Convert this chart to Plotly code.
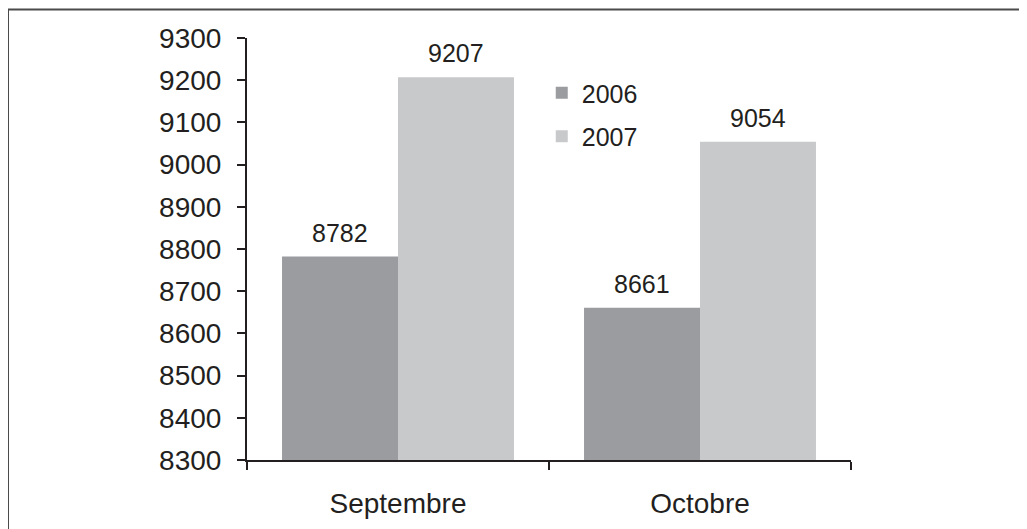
import plotly.graph_objects as go

categories = ["Septembre", "Octobre"]
series_names = ["2006", "2007"]
values_2006 = [8782, 8661]
values_2007 = [9207, 9054]
colors = ["#9b9c9f", "#c8c9cb"]
y_ticks = [8300, 8400, 8500, 8600, 8700, 8800, 8900, 9000, 9100, 9200, 9300]

FONT = "Liberation Sans, Arial, Helvetica, sans-serif"
TXT = "#231f20"
BARGAP = 0.232

fig = go.Figure()
for name, vals, col in zip(series_names, [values_2006, values_2007], colors):
    fig.add_trace(go.Bar(
        name=name, x=categories, y=vals, marker=dict(color=col, line=dict(width=0)),
        legendgroup=name,
    ))

# data labels above bars
half = (1 - BARGAP) / 2
for k, vals in enumerate([values_2006, values_2007]):
    off = -half / 2 if k == 0 else half / 2
    for i, v in enumerate(vals):
        fig.add_annotation(x=i + off, y=v, text=str(v), showarrow=False,
                           yanchor="bottom", yshift=8,
                           font=dict(family=FONT, size=25, color=TXT))

# outer frame
fig.add_shape(type="rect", xref="paper", yref="paper",
              x0=-0.3957, x1=1.31, y0=-0.25, y1=1.0675,
              line=dict(color="#4a4a4a", width=2), fillcolor="rgba(0,0,0,0)", layer="below")

fig.update_layout(
    width=1027, height=529,
    margin=dict(l=239, r=184, t=30, b=77),
    paper_bgcolor="white", plot_bgcolor="white",
    barmode="group", bargap=BARGAP, bargroupgap=0,
    font=dict(family=FONT, size=28, color=TXT),
    showlegend=True,
    legend=dict(x=0.488, y=0.924, xanchor="left", yanchor="top",
                font=dict(family=FONT, size=25, color=TXT),
                traceorder="grouped", tracegroupgap=8,
                itemwidth=30, bgcolor="rgba(0,0,0,0)"),
    xaxis=dict(type="category", showline=True, linecolor=TXT, linewidth=2,
               ticks="outside", tickson="boundaries", ticklen=8, tickwidth=2,
               tickcolor=TXT, showgrid=False, zeroline=False, ticklabelstandoff=17,
               tickfont=dict(family=FONT, size=28, color=TXT)),
    yaxis=dict(range=[8300, 9300], tickvals=y_ticks, showline=True, linecolor=TXT,
               linewidth=2, ticks="outside", ticklen=8, tickwidth=2, tickcolor=TXT,
               showgrid=False, zeroline=False, ticklabelstandoff=10,
               tickfont=dict(family=FONT, size=28, color=TXT)),
)

fig.write_html("out.html")
